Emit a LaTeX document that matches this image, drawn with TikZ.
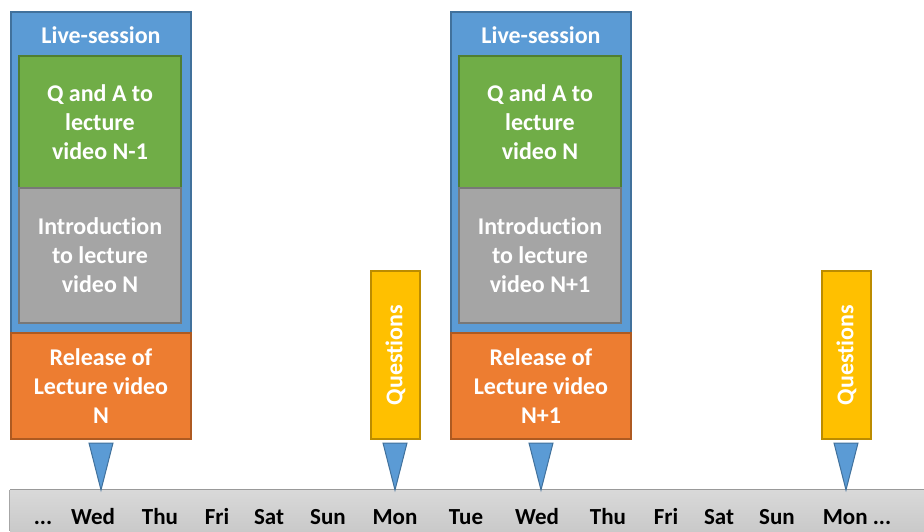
\documentclass[tikz,border=0pt]{standalone}
\usepackage{fontspec}
\setmainfont[Ligatures=NoCommon]{Carlito}
\definecolor{cblue}{HTML}{5B9BD5}
\definecolor{cblueD}{HTML}{41719C}
\definecolor{cgreen}{HTML}{70AD47}
\definecolor{cgreenD}{HTML}{507E32}
\definecolor{cgray}{HTML}{A5A5A5}
\definecolor{cgrayD}{HTML}{787878}
\definecolor{corange}{HTML}{ED7D31}
\definecolor{corangeD}{HTML}{AE5A21}
\definecolor{cyellow}{HTML}{FFC000}
\definecolor{cyellowD}{HTML}{BC8C00}
\begin{document}
\begin{tikzpicture}[x=1pt,y=-1pt,
  box/.style={draw, line width=1.5pt, inner sep=0pt, align=center, text=white,
    font=\bfseries\fontsize{24}{29}\selectfont},
  livebox/.style={box, fill=cblue, draw=cblueD, minimum width=180pt, minimum height=321pt},
  qabox/.style={box, fill=cgreen, draw=cgreenD, minimum width=162pt, minimum height=132pt},
  introbox/.style={box, fill=cgray, draw=cgrayD, minimum width=162pt, minimum height=135pt},
  relbox/.style={box, fill=corange, draw=corangeD, minimum width=180pt, minimum height=106pt},
  qbox/.style={box, fill=cyellow, draw=cyellowD, minimum width=49pt, minimum height=168pt},
  lbl/.style={text=white, font=\bfseries\fontsize{24}{29}\selectfont, inner sep=0pt},
  day/.style={font=\bfseries\fontsize{23}{26}\selectfont, inner sep=0pt, anchor=base},
  tri/.style={fill=cblue, draw=cblueD, line width=1pt, line join=miter}
]
\useasboundingbox (0,0) rectangle (924,531);
% timeline bar
\node[draw=none, inner sep=0pt, minimum width=914pt, minimum height=41pt,
  top color=gray!30, bottom color=gray!42] (bar) at (467,510.5) {};
\draw[gray!80, line width=1pt] (bar.north west) -- (bar.north east);
\draw[gray!70, line width=0.8pt] (bar.north west) -- (bar.south west);

% session 1
\node[livebox] (live1) at (101,172.5) {};
\node[lbl] (livel1) at (101,35) {Live-session};
\node[qabox] (qa1) at (100,122) {Q and A to\\lecture\\video N-1};
\node[introbox] (in1) at (100,255.5) {Introduction\\to lecture\\video N};
\node[relbox] (rel1) at (101,386) {Release of\\Lecture video\\N};

% session 2
\node[livebox] (live2) at (541,172.5) {};
\node[lbl] (livel2) at (541,35) {Live-session};
\node[qabox] (qa2) at (540,122) {Q and A to\\lecture\\video N};
\node[introbox] (in2) at (540,255.5) {Introduction\\to lecture\\video N+1};
\node[relbox] (rel2) at (541,386) {Release of\\Lecture video\\N+1};

% questions
\node[qbox] (q1) at (395.5,355) {};
\node[lbl, rotate=90] (q1l) at (q1.center) {Questions};
\node[qbox] (q2) at (846.5,355) {};
\node[lbl, rotate=90] (q2l) at (q2.center) {Questions};

% day labels
\def\by{524}
\node[day] (d0) at (43,\by) {...};
\node[day] (d1) at (93,\by) {Wed};
\node[day] (d2) at (160,\by) {Thu};
\node[day] (d3) at (217,\by) {Fri};
\node[day] (d4) at (269,\by) {Sat};
\node[day] (d5) at (328,\by) {Sun};
\node[day] (d6) at (395,\by) {Mon};
\node[day] (d7) at (466,\by) {Tue};
\node[day] (d8) at (537,\by) {Wed};
\node[day] (d9) at (608,\by) {Thu};
\node[day] (d10) at (666,\by) {Fri};
\node[day] (d11) at (719,\by) {Sat};
\node[day] (d12) at (777,\by) {Sun};
\node[day] (d13) at (857,\by) {Mon ...};

% triangles
\foreach \n/\x in {t1/101, t2/395, t3/541, t4/846}{
  \coordinate (\n) at (\x,490);
  \draw[tri] ([xshift=-12pt,yshift=47pt]\n) -- ([xshift=12pt,yshift=47pt]\n) -- (\n) -- cycle;
}
\end{tikzpicture}
\end{document}
